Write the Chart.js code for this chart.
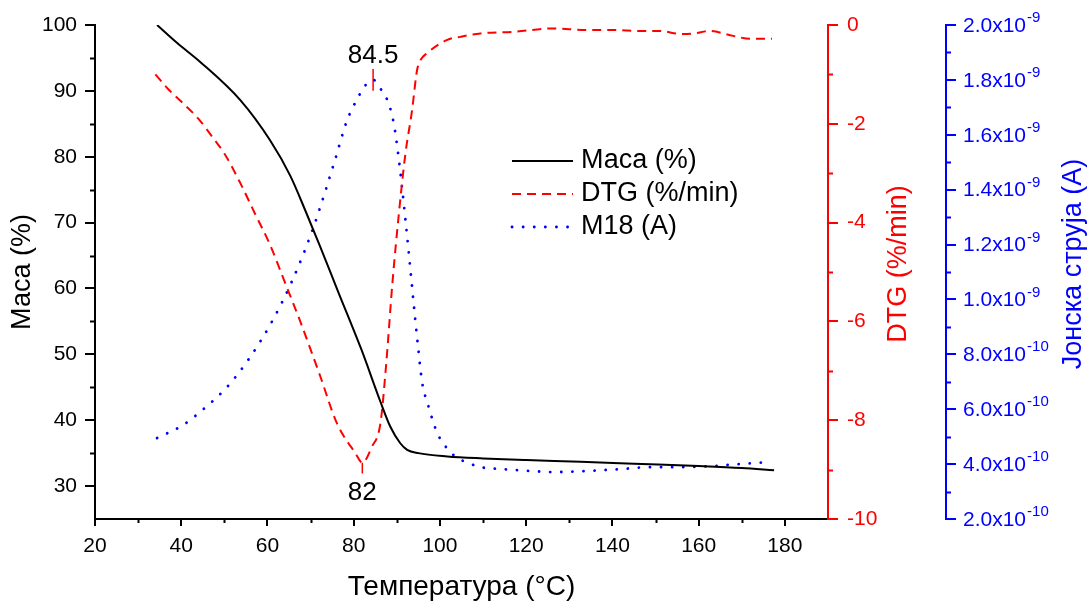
<!DOCTYPE html>
<html lang="sr">
<head>
<meta charset="UTF-8" />
<title>Маса, DTG и M18</title>
<script src="https://cdn.jsdelivr.net/npm/chart.js"></script>
<style>
  html, body { margin: 0; padding: 0; background: #fff; }
  canvas { display: block; }
</style>
</head>
<body>
<canvas id="tga" width="1090" height="601"></canvas>
<script>
  // Маса (%) over temperature
  const massTemp = [34.4, 39, 44.4, 53.7, 60.6, 65.3, 68.8, 72.2, 76.4, 81.8, 86.2, 88.5, 90.8, 92.4, 95, 101.7, 110, 120, 132.6, 145, 160, 170, 177.5];
  const mass = [100, 97.3, 94.4, 88.6, 82.5, 77.1, 71.8, 66.4, 59.5, 50.7, 42.8, 39.0, 36.5, 35.5, 35.0, 34.5, 34.2, 33.95, 33.7, 33.4, 33.05, 32.75, 32.4];

  // DTG (%/min)
  const dtgTemp = [34, 37, 40, 44, 47.5, 50, 53.7, 57, 60.6, 64, 67.6, 72.2, 76.1, 80.4, 82, 84.2, 86.2, 87.5, 89, 90.5, 92, 93.5, 94.7, 95.5, 97, 101.7, 104.7, 109.4, 117, 126, 134, 140, 146.5, 151, 155.8, 159, 162.5, 168, 172, 177];
  const dtg = [-1.0, -1.3, -1.55, -1.9, -2.3, -2.6, -3.2, -3.8, -4.45, -5.2, -6.0, -7.1, -8.06, -8.67, -8.86, -8.54, -8.06, -6.9, -5.2, -3.8, -2.6, -1.75, -0.91, -0.71, -0.57, -0.30, -0.24, -0.17, -0.14, -0.07, -0.10, -0.10, -0.12, -0.12, -0.18, -0.17, -0.12, -0.22, -0.28, -0.28];

  // M18 ion current (A)
  const m18Temp = [34.4, 40.4, 45.4, 50.4, 55.5, 60.6, 65.5, 70.6, 75.7, 78.4, 80.8, 82.7, 84.5, 86.9, 88.1, 89.3, 90.4, 92.0, 95.0, 95.9, 97.1, 99.4, 102.0, 104.1, 106.6, 109.4, 114.0, 121.0, 126.3, 134.2, 141.9, 148.9, 155.8, 163.5, 169.1, 176.7];
  const m18 = [4.95e-10, 5.42e-10, 6.04e-10, 6.77e-10, 7.79e-10, 9.07e-10, 1.06e-9, 1.26e-9, 1.51e-9, 1.65e-9, 1.73e-9, 1.78e-9, 1.80e-9, 1.75e-9, 1.715e-9, 1.64e-9, 1.52e-9, 1.29e-9, 8.16e-10, 6.95e-10, 6.23e-10, 5.13e-10, 4.51e-10, 4.22e-10, 4.04e-10, 3.89e-10, 3.82e-10, 3.75e-10, 3.71e-10, 3.75e-10, 3.82e-10, 3.89e-10, 3.89e-10, 3.93e-10, 4.00e-10, 4.08e-10];

  // peak markers: DTG minimum and M18 maximum
  const dtgMinT = 82;
  const dtgMinMark = [-8.86, -9.08];
  const m18PeakT = 84.5;
  const m18PeakMark = [1.76e-9, 1.84e-9];

  const RED = '#ff0000';
  const BLUE = '#0000ff';
  const FONT = "'Liberation Sans', Arial, sans-serif";
  Chart.defaults.font.family = FONT;

  const pts = (xs, ys) => xs.map((x, i) => ({ x, y: ys[i] }));

  function sciParts(v) {
    let e = Math.floor(Math.log10(v) + 1e-9);
    let m = v / Math.pow(10, e);
    if (m >= 9.95) { m /= 10; e += 1; }
    return [m.toFixed(1) + 'x10', String(e)];
  }

  // short ticks between the labelled ones
  const minorTicks = {
    id: 'minorTicks',
    afterDraw(chart) {
      const ctx = chart.ctx;
      const defs = [
        { id: 'x', from: 30, to: 170, step: 20, len: 4, color: '#000' },
        { id: 'y', from: 35, to: 95, step: 10, len: 5, color: '#000' },
        { id: 'yDtg', from: -9, to: -1, step: 2, len: 5, color: RED },
        { id: 'yM18', from: 3e-10, to: 1.9e-9, step: 2e-10, len: 5, color: BLUE }
      ];
      ctx.save();
      ctx.lineWidth = 2;
      defs.forEach(d => {
        const s = chart.scales[d.id];
        ctx.strokeStyle = d.color;
        for (let v = d.from; v <= d.to + d.step / 100; v += d.step) {
          const p = Math.round(s.getPixelForValue(v)) + 0.5;
          ctx.beginPath();
          if (d.id === 'x') { ctx.moveTo(p, s.top); ctx.lineTo(p, s.top + d.len); }
          else if (d.id === 'y') { ctx.moveTo(s.right, p); ctx.lineTo(s.right - d.len, p); }
          else { ctx.moveTo(s.left, p); ctx.lineTo(s.left + d.len, p); }
          ctx.stroke();
        }
      });
      ctx.restore();
    }
  };

  // right axis titles (read bottom to top), M18 tick labels with exponents,
  // peak labels and the legend
  const decorations = {
    id: 'decorations',
    afterDraw(chart) {
      const ctx = chart.ctx;
      const area = chart.chartArea;
      const sD = chart.scales.yDtg, sM = chart.scales.yM18;
      const midY = (area.top + area.bottom) / 2 - 8;

      ctx.save();
      ctx.font = '27px ' + FONT;
      ctx.textAlign = 'center';
      ctx.textBaseline = 'middle';
      [[sD, 71, RED, 'DTG (%/min)'], [sM, 128, BLUE, 'Јонска струја (A)']].forEach(([s, dx, c, t]) => {
        ctx.save();
        ctx.translate(s.left + dx, midY);
        ctx.rotate(-Math.PI / 2);
        ctx.fillStyle = c;
        ctx.fillText(t, 0, 0);
        ctx.restore();
      });

      // M18 tick labels
      ctx.fillStyle = BLUE;
      ctx.textAlign = 'left';
      sM.ticks.forEach(t => {
        const [base, exp] = sciParts(t.value);
        const y = sM.getPixelForValue(t.value);
        const x = sM.left + 17;
        ctx.font = '21px ' + FONT;
        ctx.textBaseline = 'middle';
        ctx.fillText(base, x, y + 1);
        const w = ctx.measureText(base).width;
        ctx.font = '15px ' + FONT;
        ctx.fillText(exp, x + w + 1, y - 7);
      });

      // peak labels
      const sx = chart.scales.x;
      ctx.fillStyle = '#000';
      ctx.font = '26px ' + FONT;
      ctx.textAlign = 'center';
      ctx.textBaseline = 'alphabetic';
      ctx.fillText(String(m18PeakT), sx.getPixelForValue(m18PeakT), sM.getPixelForValue(m18PeakMark[1]) - 6);
      ctx.fillText(String(dtgMinT), sx.getPixelForValue(dtgMinT), sD.getPixelForValue(dtgMinMark[1]) + 26);

      // legend
      const lx = area.left + 417, ly = area.top + 136, row = 33;
      chart.data.datasets.filter(d => !d.marker).forEach((d, i) => {
        const y = ly + i * row;
        ctx.beginPath();
        ctx.strokeStyle = d.borderColor;
        ctx.lineWidth = d.borderWidth;
        ctx.lineCap = d.borderCapStyle || 'butt';
        ctx.setLineDash(d.borderDash || []);
        ctx.moveTo(lx, y);
        ctx.lineTo(lx + 61, y);
        ctx.stroke();
        ctx.setLineDash([]);
        ctx.fillStyle = '#000';
        ctx.font = '27px ' + FONT;
        ctx.textAlign = 'left';
        ctx.textBaseline = 'middle';
        ctx.fillText(d.label, lx + 69, y);
      });
      ctx.restore();
    }
  };

  const axisGrid = color => ({ drawOnChartArea: false, color, lineWidth: 2, tickLength: 10 });

  new Chart(document.getElementById('tga'), {
    type: 'line',
    data: {
      datasets: [
        { label: 'Маса (%)', data: pts(massTemp, mass), yAxisID: 'y', borderColor: '#000', borderWidth: 2, pointRadius: 0, cubicInterpolationMode: 'monotone' },
        { label: 'DTG (%/min)', data: pts(dtgTemp, dtg), yAxisID: 'yDtg', borderColor: RED, borderWidth: 2, borderDash: [9, 6], pointRadius: 0, cubicInterpolationMode: 'monotone' },
        { label: 'M18 (A)', data: pts(m18Temp, m18), yAxisID: 'yM18', borderColor: BLUE, borderWidth: 2.8, borderDash: [0.1, 11], borderCapStyle: 'round', pointRadius: 0, cubicInterpolationMode: 'monotone' },
        { marker: true, label: '', data: [{ x: dtgMinT, y: dtgMinMark[0] }, { x: dtgMinT, y: dtgMinMark[1] }], yAxisID: 'yDtg', borderColor: RED, borderWidth: 1.5, pointRadius: 0 },
        { marker: true, label: '', data: [{ x: m18PeakT, y: m18PeakMark[0] }, { x: m18PeakT, y: m18PeakMark[1] }], yAxisID: 'yM18', borderColor: RED, borderWidth: 1.5, pointRadius: 0 }
      ]
    },
    options: {
      responsive: false,
      animation: false,
      layout: { padding: { top: 25, left: 0, right: 0, bottom: 0 } },
      plugins: { legend: { display: false }, tooltip: { enabled: false } },
      scales: {
        x: {
          type: 'linear', position: 'bottom', min: 20, max: 190,
          border: { color: '#000', width: 2 },
          grid: { drawOnChartArea: false, color: '#000', lineWidth: 2, tickLength: 7 },
          ticks: { stepSize: 20, includeBounds: false, color: '#000', font: { size: 21 }, padding: 8, maxRotation: 0 },
          title: { display: true, text: 'Температура (°C)', color: '#000', font: { size: 28, lineHeight: 1 }, padding: { top: 0, bottom: 0 } },
          afterFit: s => { s.height = 82; }
        },
        y: {
          type: 'linear', position: 'left', min: 25, max: 100,
          border: { color: '#000', width: 2 },
          grid: axisGrid('#000'),
          ticks: { stepSize: 10, includeBounds: false, color: '#000', font: { size: 21 }, padding: 8 },
          title: { display: true, text: 'Маса (%)', color: '#000', font: { size: 27, lineHeight: 1.2 }, padding: { top: 6, bottom: 0 } },
          afterFit: s => { s.width = 95; }
        },
        yDtg: {
          type: 'linear', position: 'right', min: -10, max: 0,
          border: { color: RED, width: 2 },
          grid: axisGrid(RED),
          ticks: { stepSize: 2, color: RED, font: { size: 21 }, padding: 9 },
          afterFit: s => { s.width = 118; }
        },
        yM18: {
          type: 'linear', position: 'right', min: 2e-10, max: 2e-9,
          border: { color: BLUE, width: 2 },
          grid: axisGrid(BLUE),
          ticks: { stepSize: 2e-10, color: 'rgba(0,0,0,0)', font: { size: 21 }, padding: 7, callback: v => sciParts(v).join('') },
          afterFit: s => { s.width = 144; }
        }
      }
    },
    plugins: [minorTicks, decorations]
  });
</script>
</body>
</html>
